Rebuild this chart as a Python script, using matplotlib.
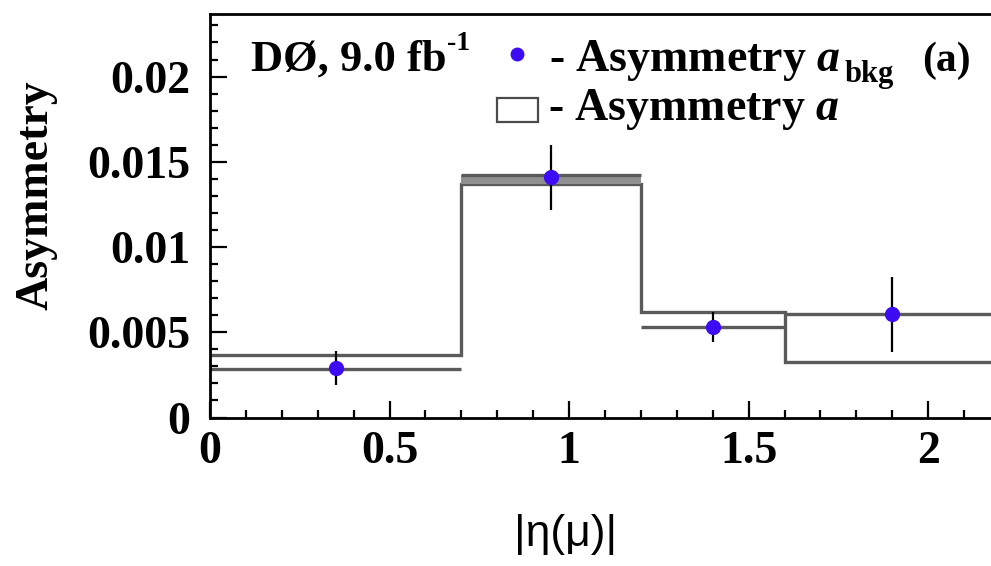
import matplotlib
matplotlib.use('Agg')
import matplotlib.pyplot as plt
from matplotlib.patches import Rectangle

# |eta(mu)| bins
bin_edges = [0, 0.7, 1.2, 1.6, 2.2]
# asymmetry a (step histogram) and second set of levels
asym_a = [0.00365, 0.0137, 0.0062, 0.00326]
asym_a_alt = [0.00283, 0.0142, 0.0053, 0.0061]
# asymmetry a_bkg points
bkg_x = [0.35, 0.95, 1.4, 1.9]
bkg_y = [0.00288, 0.0141, 0.0053, 0.00605]
bkg_err = [0.0010, 0.0019, 0.0009, 0.0022]

xticks = [0, 0.5, 1, 1.5, 2]
xtick_labels = ['0', '0.5', '1', '1.5', '2']
yticks = [0, 0.005, 0.01, 0.015, 0.02]
ytick_labels = ['0', '0.005', '0.01', '0.015', '0.02']

plt.rcParams['font.family'] = 'Liberation Serif'
plt.rcParams['font.weight'] = 'bold'
plt.rcParams['mathtext.fontset'] = 'custom'
plt.rcParams['mathtext.rm'] = 'Liberation Serif:bold'
plt.rcParams['mathtext.it'] = 'Liberation Serif:bold:italic'
plt.rcParams['mathtext.bf'] = 'Liberation Serif:bold'

W, H = 991, 566
fig = plt.figure(figsize=(W / 100, H / 100), dpi=100)
ax = fig.add_axes([210 / W, 1 - 417.5 / H, 790 / W, 404 / H])

line_col = '#5a5a5a'
ax.stairs(asym_a, bin_edges, baseline=None, color=line_col, lw=2.4)
ax.hlines(asym_a_alt, bin_edges[:-1], bin_edges[1:], color=line_col, lw=2.4)
ax.fill_between(bin_edges[1:3], asym_a[1], asym_a_alt[1], color='#909090', lw=0)

ax.errorbar(bkg_x, bkg_y, yerr=bkg_err, fmt='o', color='#3d0cf5', ecolor='black',
            elinewidth=1.6, markersize=10, zorder=5)

ax.set_xlim(0, 2.2)
ax.set_ylim(0, 0.0237)
ax.set_xticks(xticks)
ax.set_xticklabels(xtick_labels)
ax.set_yticks(yticks)
ax.set_yticklabels(ytick_labels)
ax.set_xticks([i * 0.1 for i in range(23)], minor=True)
ax.set_yticks([i * 0.001 for i in range(24)], minor=True)
ax.tick_params(which='both', direction='in', top=False, right=False, width=1.6, labelsize=33)
ax.tick_params(which='major', length=12, pad=10)
ax.tick_params(axis='y', which='major', pad=14)
ax.tick_params(which='minor', length=6)
for s in ax.spines.values():
    s.set_linewidth(2)

ax.set_ylabel('Asymmetry', fontsize=33, fontweight='bold')
ax.yaxis.set_label_coords(-0.193, 0.55)
ax.set_xlabel('|\u03b7(\u03bc)|', fontsize=32, family='Liberation Sans', fontweight='normal')
ax.xaxis.set_label_coords(0.45, -0.24)

def fx(px):
    return px / W

def fy(py):
    return 1 - py / H

renderer = fig.canvas.get_renderer()

def after(t, gap, py, s, size):
    # put a new text piece right after the previous one
    x1 = t.get_window_extent(renderer).x1
    return fig.text((x1 + gap) / W, fy(py), s, fontsize=size, va='baseline')

t = fig.text(fx(251), fy(71), 'D\u00d8, 9.0 fb', fontsize=32, va='baseline')
after(t, 1, 50, '-1', 20)
fig.lines.append(plt.Line2D([fx(517)], [fy(54)], marker='o', markersize=9,
                            color='#3d0cf5', transform=fig.transFigure))
t = fig.text(fx(549), fy(71), '- Asymmetry $a$', fontsize=33, va='baseline')
after(t, 4, 82, 'bkg', 22)
fig.text(fx(922), fy(71), '(a)', fontsize=30, va='baseline')
fig.patches.append(Rectangle((fx(497), fy(122)), fx(41), 24 / H, transform=fig.transFigure,
                             facecolor='white', edgecolor='#4a4a4a', lw=1.6))
fig.text(fx(548), fy(120), '- Asymmetry $a$', fontsize=33, va='baseline')

fig.savefig('out.png', dpi=100)
